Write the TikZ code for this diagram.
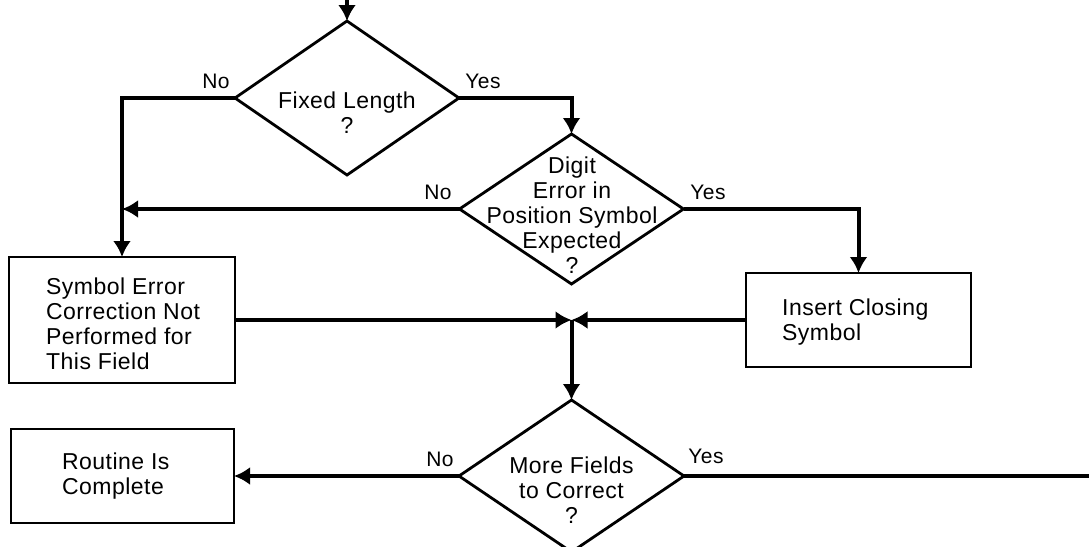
\documentclass[tikz,border=0pt]{standalone}
\usepackage{fontspec}
\setmainfont[LetterSpace=2]{Liberation Sans}
\usetikzlibrary{shapes.geometric,arrows.meta}

\tikzset{
  decision/.style={shape=diamond, draw, line width=2.8pt, inner sep=0pt, outer sep=0pt},
  procbox/.style={rectangle, draw, line width=2.4pt, inner sep=0pt, outer sep=0pt},
  txt/.style={font=\fontsize{23pt}{25pt}\selectfont, inner sep=0pt},
  lbl/.style={font=\fontsize{21pt}{24pt}\selectfont, inner sep=0pt},
  conn/.style={line width=4pt, line join=miter},
  arr/.style={conn, -{Latex[length=16pt,width=18pt]}}
}

\begin{document}
\begin{tikzpicture}[x=1pt,y=-1pt]
\useasboundingbox (0,0) rectangle (1089,546);

% decisions
\node[decision, minimum width=224pt, minimum height=154pt] (d1) at (347,98) {};
\node[decision, minimum width=224pt, minimum height=150pt] (d2) at (571.5,209) {};
\node[decision, minimum width=225pt, minimum height=152pt] (d3) at (571.5,476) {};

\node[txt, align=center] (d1t) at (347,113) {Fixed Length\\?};
\node[txt, align=center] (d2t) at (572,215) {Digit\\Error in\\Position Symbol\\Expected\\?};
\node[txt, align=center] (d3t) at (571.5,490) {More Fields\\to Correct\\?};

% process boxes
\node[procbox, minimum width=226pt, minimum height=126pt] (b1) at (122,320) {};
\node[procbox, minimum width=225pt, minimum height=94pt] (b2) at (858.5,320) {};
\node[procbox, minimum width=223pt, minimum height=94pt] (b3) at (122.5,476) {};

\node[txt, align=left, anchor=west] (b1t) at (46,324) {Symbol Error\\Correction Not\\Performed for\\This Field};
\node[txt, align=left, anchor=west] (b2t) at (782,322) {Insert Closing\\Symbol};
\node[txt, align=left, anchor=west] (b3t) at (62,476) {Routine Is\\Complete};

% branch labels
\node[lbl] (l1n) at (216,81) {No};
\node[lbl] (l1y) at (483,81) {Yes};
\node[lbl] (l2n) at (438,192) {No};
\node[lbl] (l2y) at (708,192) {Yes};
\node[lbl] (l3n) at (440,459) {No};
\node[lbl] (l3y) at (706,456) {Yes};

% free ends and junctions
\coordinate (entry) at (347,-4);
\coordinate (n2end) at (b1.north |- d2.west);
\coordinate (jn) at (571.5,320);
\coordinate (yend) at (1095,476);

% connectors
\draw[arr] (entry) -- (d1.north);
\draw[arr] (d1.west) -| (b1.north);
\draw[arr] (d1.east) -| (d2.north);
\draw[arr] (d2.west) -- (n2end);
\draw[arr] (d2.east) -| (b2.north);
\draw[arr] (b1.east) -- (jn);
\draw[arr] (b2.west) -- (jn);
\draw[arr] (jn) -- (d3.north);
\draw[arr] (d3.west) -- (b3.east);
\draw[conn] (d3.east) -- (yend);
\end{tikzpicture}
\end{document}
